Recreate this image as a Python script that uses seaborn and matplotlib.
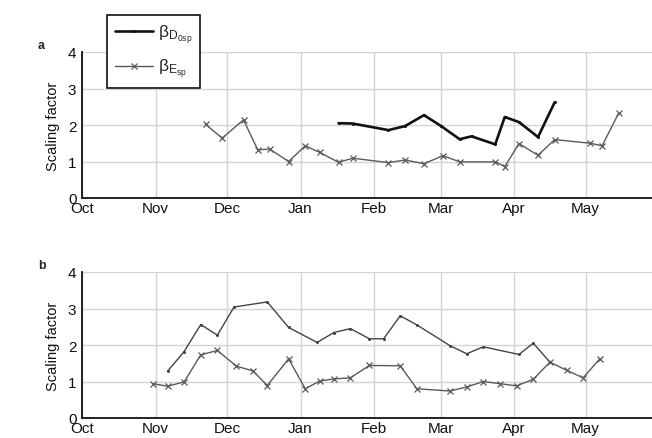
import matplotlib
matplotlib.use("Agg")
import matplotlib.pyplot as plt
import matplotlib.dates as mdates
import seaborn as sns
import pandas as pd

# ---------------- data ----------------
a_D_dates = ["2007-01-17", "2007-01-23", "2007-02-07", "2007-02-14", "2007-02-22",
             "2007-03-01", "2007-03-09", "2007-03-14", "2007-03-24", "2007-03-28",
             "2007-04-03", "2007-04-11", "2007-04-18"]
a_D_vals = [2.05, 2.04, 1.86, 1.97, 2.27, 1.98, 1.61, 1.69, 1.47, 2.22, 2.08, 1.67, 2.62]

a_E_dates = ["2006-11-22", "2006-11-29", "2006-12-08", "2006-12-14", "2006-12-19",
             "2006-12-27", "2007-01-03", "2007-01-09", "2007-01-17", "2007-01-23",
             "2007-02-07", "2007-02-14", "2007-02-22", "2007-03-02", "2007-03-09",
             "2007-03-24", "2007-03-28", "2007-04-03", "2007-04-11", "2007-04-18",
             "2007-05-03", "2007-05-08", "2007-05-15"]
a_E_vals = [2.02, 1.64, 2.14, 1.32, 1.34, 1.00, 1.43, 1.25, 0.98, 1.09,
            0.97, 1.04, 0.94, 1.16, 0.99, 0.99, 0.86, 1.49, 1.17, 1.60,
            1.50, 1.43, 2.33]

b_D_dates = ["2006-11-06", "2006-11-13", "2006-11-20", "2006-11-27", "2006-12-04",
             "2006-12-18", "2006-12-27", "2007-01-08", "2007-01-15", "2007-01-22",
             "2007-01-30", "2007-02-05", "2007-02-12", "2007-02-19", "2007-03-05",
             "2007-03-12", "2007-03-19", "2007-04-03", "2007-04-09", "2007-04-16"]
b_D_vals = [1.28, 1.82, 2.56, 2.27, 3.04, 3.18, 2.48, 2.07, 2.34, 2.45,
            2.17, 2.17, 2.80, 2.55, 1.98, 1.76, 1.95, 1.74, 2.05, 1.53]

b_E_dates = ["2006-10-31", "2006-11-06", "2006-11-13", "2006-11-20", "2006-11-27",
             "2006-12-05", "2006-12-12", "2006-12-18", "2006-12-27", "2007-01-03",
             "2007-01-09", "2007-01-15", "2007-01-22", "2007-01-30", "2007-02-12",
             "2007-02-19", "2007-03-05", "2007-03-12", "2007-03-19", "2007-03-26",
             "2007-04-02", "2007-04-09", "2007-04-16", "2007-04-23", "2007-04-30",
             "2007-05-07"]
b_E_vals = [0.94, 0.87, 0.99, 1.73, 1.85, 1.42, 1.29, 0.89, 1.62, 0.80,
            1.01, 1.07, 1.10, 1.44, 1.43, 0.80, 0.74, 0.85, 1.00, 0.94,
            0.88, 1.06, 1.53, 1.31, 1.10, 1.62]

y_ticks = [0, 1, 2, 3, 4]
y_label = "Scaling factor"
panel_labels = ["a", "b"]
legend_labels = [r"$\mathrm{\beta_{D_{0sp}}}$", r"$\mathrm{\beta_{E_{sp}}}$"]
x_start, x_end = "2006-10-01", "2007-05-29"

# ---------------- style ----------------
sns.set_style("white")
plt.rcParams["font.family"] = ["Liberation Sans", "DejaVu Sans"]
plt.rcParams["mathtext.fontset"] = "custom"
plt.rcParams["mathtext.rm"] = "Liberation Sans"
plt.rcParams["mathtext.it"] = "Liberation Sans"
plt.rcParams["mathtext.bf"] = "Liberation Sans:bold"

W, H = 652, 439
fig = plt.figure(figsize=(W / 100, H / 100), dpi=100)

def ax_rect(left, top, right, bottom):
    return [left / W, 1 - bottom / H, (right - left) / W, (bottom - top) / H]

ax_a = fig.add_axes(ax_rect(82, 53, 652, 199))
ax_b = fig.add_axes(ax_rect(82, 273, 652, 419))

def df(d, v):
    return pd.DataFrame({"date": pd.to_datetime(d), "val": v})

grid_c = "#d4d4d4"
E_col = "#5a5a5a"

# panel a
sns.lineplot(data=df(a_D_dates, a_D_vals), x="date", y="val", ax=ax_a, color="#111111",
             lw=1.9, marker="o", markersize=2.2, markeredgewidth=0, sort=False,
             estimator=None, label=legend_labels[0])
sns.lineplot(data=df(a_E_dates, a_E_vals), x="date", y="val", ax=ax_a, color=E_col,
             lw=1.0, marker="x", markersize=5, markeredgewidth=0.9, markeredgecolor=E_col,
             sort=False, estimator=None, label=legend_labels[1])

# panel b
sns.lineplot(data=df(b_D_dates, b_D_vals), x="date", y="val", ax=ax_b, color="#444444",
             lw=1.0, marker="o", markersize=2.2, markeredgewidth=0, sort=False,
             estimator=None, legend=False)
sns.lineplot(data=df(b_E_dates, b_E_vals), x="date", y="val", ax=ax_b, color=E_col,
             lw=1.0, marker="x", markersize=5, markeredgewidth=0.9, markeredgecolor=E_col,
             sort=False, estimator=None, legend=False)

for ax in [ax_a, ax_b]:
    ax.set_xlim(pd.Timestamp(x_start), pd.Timestamp(x_end))
    ax.set_ylim(0, 4)
    ax.set_yticks(y_ticks)
    ax.xaxis.set_major_locator(mdates.MonthLocator())
    ax.xaxis.set_major_formatter(mdates.DateFormatter("%b"))
    ax.grid(True, color=grid_c, lw=1.0)
    ax.set_axisbelow(True)
    for s in ["top", "right"]:
        ax.spines[s].set_visible(False)
    for s in ["left", "bottom"]:
        ax.spines[s].set_color("#111111")
        ax.spines[s].set_linewidth(1.3)
    ax.tick_params(axis="both", direction="in", length=5, width=1.2, color="#111111",
                   labelsize=11, labelcolor="#111111")
    ax.tick_params(axis="x", pad=2)
    ax.tick_params(axis="y", pad=4)
    ax.set_xlabel("")
    ax.set_ylabel(y_label, fontsize=10.5, color="#111111", labelpad=6)

fig.text(38 / W, 1 - 46 / H, panel_labels[0], fontsize=9, fontweight="bold", va="center")
fig.text(38 / W, 1 - 266 / H, panel_labels[1], fontsize=9, fontweight="bold", va="center")

leg = ax_a.legend(loc="upper left", bbox_to_anchor=((107 - 82) / 570, (199 - 16) / 146),
                  borderaxespad=0, frameon=True, fancybox=False, fontsize=12.5,
                  handlelength=2.2, handletextpad=0.3, labelspacing=0.65,
                  borderpad=0.45)
leg.get_frame().set_edgecolor("#111111")
leg.get_frame().set_linewidth(1.2)
leg.get_frame().set_alpha(1)

fig.savefig("out.png", dpi=100)
